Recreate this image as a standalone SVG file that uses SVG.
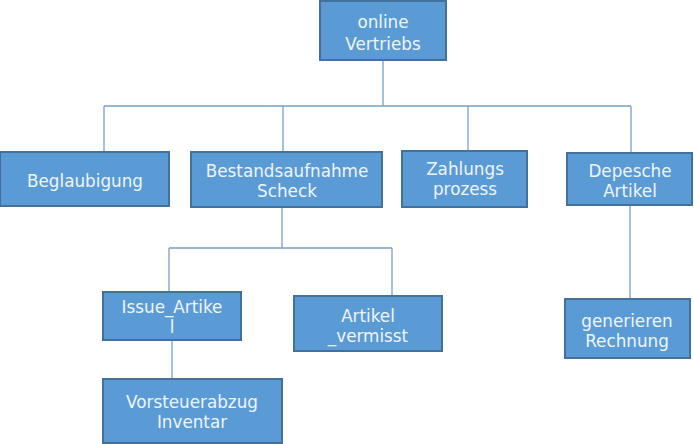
<svg xmlns="http://www.w3.org/2000/svg" width="694" height="444" viewBox="0 0 694 444">
<style>
.box{fill:#5b9bd5;stroke:#41719c;stroke-width:2}
.t{font-family:"DejaVu Sans",Verdana,sans-serif;font-size:16.8px;fill:#eef5fc;text-anchor:middle}
.c{stroke:#7a9fca;stroke-width:1.3;fill:none}
</style>
<rect width="694" height="444" fill="#ffffff"/>
<g id="connectors">
<path class="c" d="M383,60 V106 M104,106 H631 M104,106 V152 M283,106 V152 M468,106 V151 M631,106 V153"/>
<path class="c" d="M282,207 V248 M169,248 H392 M169,248 V292 M392,248 V296"/>
<path class="c" d="M172,340 V379"/>
<path class="c" d="M630,205 V299"/>
</g>
<g id="online-vertriebs"><rect class="box" x="320" y="1" width="126" height="59"/><text class="t" x="383" y="28">online</text><text class="t" x="383" y="50">Vertriebs</text></g>
<g id="beglaubigung"><rect class="box" x="0" y="152" width="169" height="54"/><text class="t" x="85" y="187">Beglaubigung</text></g>
<g id="bestandsaufnahme"><rect class="box" x="191" y="152" width="191" height="55"/><text class="t" x="287" y="177">Bestandsaufnahme</text><text class="t" x="287" y="197">Scheck</text></g>
<g id="zahlungsprozess"><rect class="box" x="402" y="151" width="125" height="56"/><text class="t" x="465" y="175">Zahlungs</text><text class="t" x="465" y="195">prozess</text></g>
<g id="depesche"><rect class="box" x="567" y="153" width="125" height="52"/><text class="t" x="630" y="177">Depesche</text><text class="t" x="630" y="197">Artikel</text></g>
<g id="issue-artikel"><rect class="box" x="103" y="292" width="138" height="48"/><text class="t" x="172" y="313">Issue_Artike</text><text class="t" x="172" y="333">l</text></g>
<g id="artikel-vermisst"><rect class="box" x="294" y="296" width="148" height="55"/><text class="t" x="368" y="322">Artikel</text><text class="t" x="368" y="342">_vermisst</text></g>
<g id="vorsteuerabzug"><rect class="box" x="103" y="379" width="179" height="64"/><text class="t" x="192" y="408">Vorsteuerabzug</text><text class="t" x="192" y="428">Inventar</text></g>
<g id="generieren"><rect class="box" x="565" y="299" width="125" height="59"/><text class="t" x="627" y="327">generieren</text><text class="t" x="627" y="347">Rechnung</text></g>
</svg>
